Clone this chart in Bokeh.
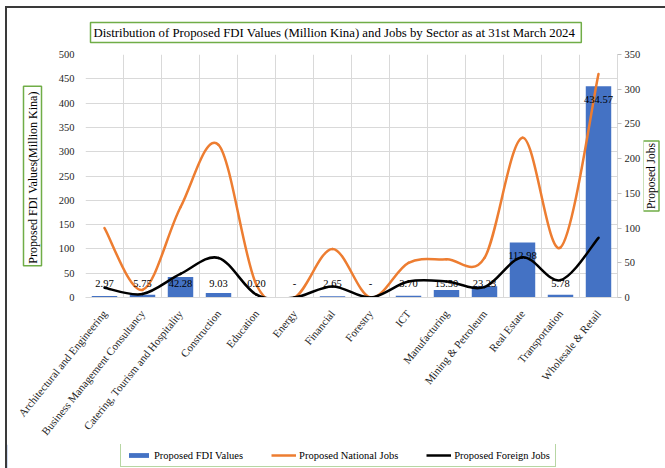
import numpy as np
from bokeh.plotting import figure
from bokeh.layouts import column, row
from bokeh.models import (Range1d, LinearAxis, FixedTicker, Legend, Title,
                          LegendItem, ColumnDataSource, Label)
from bokeh.core.properties import value
from bokeh.embed import file_html
from bokeh.resources import INLINE

# ---------------- data ----------------
sectors = ["Architectural and Engineering", "Business Management Consultancy",
           "Catering, Tourism and Hospitality", "Construction", "Education",
           "Energy", "Financial", "Forestry", "ICT", "Manufacturing",
           "Mining & Petroleum", "Real Estate", "Transportation",
           "Wholesale & Retail"]
fdi_values = [2.97, 5.75, 42.28, 9.03, 0.20, 0, 2.65, 0, 3.70, 15.50, 23.23,
              112.98, 5.78, 434.57]
fdi_labels = ["2.97", "5.75", "42.28", "9.03", "0.20", "-", "2.65", "-",
              "3.70", "15.50", "23.23", "112.98", "5.78", "434.57"]
national_jobs = [100, 11, 130, 220, 18, 0, 70, 0, 50, 55, 57, 230, 72, 322]
foreign_jobs = [14, 5, 34, 57, 4, 0, 16, 0, 23, 23, 15, 58, 25, 86]
fdi_ticks = list(range(0, 501, 50))
jobs_ticks = list(range(0, 351, 50))
title_text = ("Distribution of Proposed FDI Values (Million Kina) and  Jobs "
              "by Sector as at 31st March 2024")
left_title = "Proposed FDI Values(Million  Kina)"
right_title = "Proposed Jobs"
legend_labels = ["Proposed FDI Values", "Proposed National Jobs",
                 "Proposed Foreign Jobs"]

SERIF = "Liberation Serif"
GREEN = "#70AD47"
BLUE = "#4472C4"
ORANGE = "#ED7D31"
GRID = "#d9d9d9"
TXT = "#262626"

n = len(sectors)
xc = np.arange(n) + 0.5
edges = list(range(n + 1))


def bezier_segments(xs, ys):
    xs = np.asarray(xs, float)
    ys = np.asarray(ys, float)
    xp = np.concatenate([[xs[0]], xs, [xs[-1]]])
    yp = np.concatenate([[ys[0]], ys, [ys[-1]]])
    i = np.arange(len(xs) - 1)
    return dict(
        x0=xs[:-1], y0=ys[:-1], x1=xs[1:], y1=ys[1:],
        cx0=xs[:-1] + (xp[i + 2] - xp[i]) / 6.0,
        cy0=ys[:-1] + (yp[i + 2] - yp[i]) / 6.0,
        cx1=xs[1:] - (xp[i + 3] - xp[i + 1]) / 6.0,
        cy1=ys[1:] - (yp[i + 3] - yp[i + 1]) / 6.0,
    )


main_title = Title(text=title_text, align="left", offset=5,
                   text_font=SERIF, text_font_size="12.8px",
                   text_font_style="normal", text_color="black",
                   border_line_color=GREEN, border_line_width=1.5,
                   background_fill_color="white", padding=3, standoff=24)

P_W, P_H = 636, 436
p = figure(width=P_W, height=P_H, x_range=Range1d(0, n), y_range=Range1d(0, 500),
           output_backend="svg", toolbar_location=None, title=main_title,
           min_border_left=76, min_border_right=23, min_border_top=46,
           min_border_bottom=147)
p.outline_line_color = None
p.background_fill_color = "white"
p.border_fill_color = "white"
p.extra_y_ranges = {"jobs": Range1d(0, 350)}

# grids
p.ygrid.ticker = FixedTicker(ticks=fdi_ticks)
p.xgrid.ticker = FixedTicker(ticks=edges)
p.grid.grid_line_color = GRID
p.grid.grid_line_width = 1

# left axis
ly = p.yaxis[0]
ly.ticker = FixedTicker(ticks=fdi_ticks)
ly.axis_line_color = None
ly.major_tick_line_color = None
ly.major_tick_out = 0
ly.major_tick_in = 0
ly.minor_tick_line_color = None
ly.minor_tick_out = 0
ly.major_label_standoff = 11
ly.major_label_text_font = SERIF
ly.major_label_text_font_size = "10.5px"
ly.major_label_text_color = TXT

# bottom axis
xa = p.xaxis[0]
xa.ticker = FixedTicker(ticks=list(xc))
xa.major_label_overrides = {float(x): s for x, s in zip(xc, sectors)}
xa.major_label_orientation = 0.89
xa.major_tick_line_color = None
xa.minor_tick_line_color = None
xa.axis_line_color = GRID
xa.major_label_standoff = 8
xa.major_label_text_font = SERIF
xa.major_label_text_font_size = "11px"
xa.major_label_text_color = TXT

# right axis
ra = LinearAxis(y_range_name="jobs", ticker=FixedTicker(ticks=jobs_ticks))
ra.axis_line_color = GRID
ra.major_tick_line_color = "#bfbfbf"
ra.major_tick_out = 4
ra.major_tick_in = 0
ra.minor_tick_line_color = None
ra.major_label_standoff = 3
ra.major_label_text_font = SERIF
ra.major_label_text_font_size = "10.5px"
ra.major_label_text_color = TXT
p.add_layout(ra, "right")

# boxed left axis title
p.add_layout(Title(text=left_title, align="center", text_font=SERIF,
                   text_font_size="12px", text_font_style="normal",
                   text_color="black", border_line_color=GREEN,
                   border_line_width=1.5, background_fill_color="white",
                   padding=2, standoff=28), "left")

# bars
p.vbar(x=xc, top=fdi_values, width=0.67, fill_color=BLUE, line_color=None)

# smoothed job lines
p.bezier(source=ColumnDataSource(bezier_segments(xc, national_jobs)),
         x0="x0", y0="y0", x1="x1", y1="y1", cx0="cx0", cy0="cy0",
         cx1="cx1", cy1="cy1", line_color=ORANGE, line_width=2.5,
         line_cap="round", y_range_name="jobs")
p.bezier(source=ColumnDataSource(bezier_segments(xc, foreign_jobs)),
         x0="x0", y0="y0", x1="x1", y1="y1", cx0="cx0", cy0="cy0",
         cx1="cx1", cy1="cy1", line_color="black", line_width=2.5,
         line_cap="round", y_range_name="jobs")

# data labels
lab_y = np.maximum(np.asarray(fdi_values, float), 55.5)
p.text(x=xc, y=lab_y, text=fdi_labels, text_align="center",
       text_baseline="middle", y_offset=13, text_font=value(SERIF),
       text_font_size="10.5px", text_color="black")

# ---------------- right title strip ----------------
R_W = 658 - P_W
rf = figure(width=R_W, height=P_H, x_range=Range1d(0, R_W), y_range=Range1d(0, 1),
            output_backend="svg", toolbar_location=None,
            x_axis_location=None, y_axis_location=None,
            min_border_left=0, min_border_right=0, min_border_top=0,
            min_border_bottom=0)
rf.outline_line_color = None
rf.grid.visible = False
rf.background_fill_color = "white"
rf.border_fill_color = "white"
rf.add_layout(Label(x=7.5, y=0.5, text=right_title, angle=np.pi / 2,
                    text_align="center", text_baseline="middle",
                    text_font=SERIF, text_font_size="11.5px", text_color="black",
                    border_line_color=GREEN, border_line_width=1.5,
                    background_fill_color="white", padding=2))

# ---------------- legend strip ----------------
lf = figure(width=658, height=24, x_range=Range1d(0, 1), y_range=Range1d(0, 1),
            output_backend="svg", toolbar_location=None,
            x_axis_location=None, y_axis_location=None,
            min_border_left=0, min_border_right=0, min_border_top=0,
            min_border_bottom=0)
lf.outline_line_color = None
lf.grid.visible = False
lf.background_fill_color = "white"
lf.border_fill_color = "white"
r_bar = lf.vbar(x=[-5], top=[1], width=0.1, fill_color=BLUE, line_color=None)
r_nat = lf.line(x=[-5, -4], y=[0, 0], line_color=ORANGE, line_width=2.5)
r_frn = lf.line(x=[-5, -4], y=[0, 0], line_color="black", line_width=2.5)

legend = Legend(items=[LegendItem(label=legend_labels[0], renderers=[r_bar]),
                       LegendItem(label=legend_labels[1], renderers=[r_nat]),
                       LegendItem(label=legend_labels[2], renderers=[r_frn])],
                orientation="horizontal", location=(113, 1), margin=0,
                padding=5, spacing=28, label_standoff=3, glyph_width=25,
                glyph_height=6, label_height=12,
                label_text_font=SERIF, label_text_font_size="10.5px",
                label_text_color="black",
                border_line_color=GREEN, border_line_width=1.5,
                background_fill_color="white", background_fill_alpha=1)
lf.add_layout(legend, "center")

layout = column(row(p, rf, spacing=0), lf, spacing=0,
                styles={"margin-left": "5px", "margin-top": "6px",
                        "border-left": "2px solid #3a3a3a",
                        "border-top": "2px solid #3a3a3a"})

open("out.html", "w").write(file_html(layout, INLINE))
